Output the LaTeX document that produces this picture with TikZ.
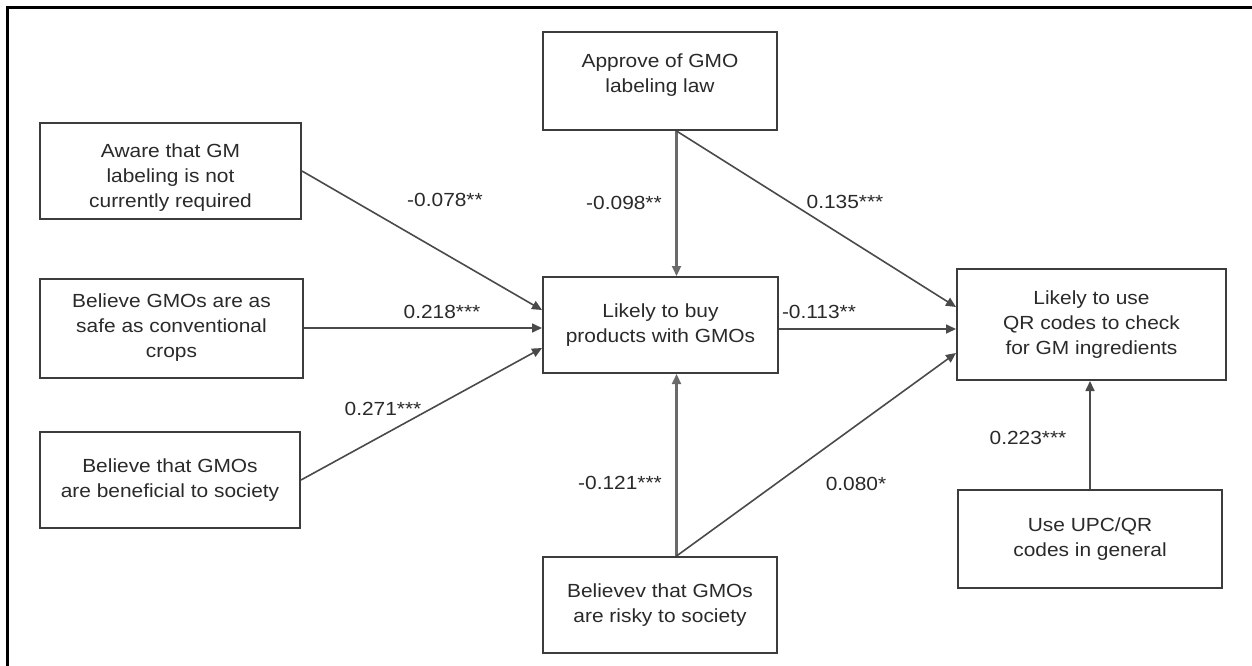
\documentclass[tikz,border=0pt]{standalone}
\usepackage{fontspec}
\setmainfont[FakeStretch=1.1]{Liberation Sans}
\usetikzlibrary{arrows.meta,calc}
\definecolor{boxc}{HTML}{3C3C3C}
\definecolor{arrc}{HTML}{4A4A4A}
\definecolor{varrc}{HTML}{6A6A6A}
\definecolor{txtc}{HTML}{2A2A2A}
\begin{document}
\begin{tikzpicture}[x=1pt,y=-1pt,
  box/.style={draw=boxc,line width=2pt,fill=white,align=center,inner sep=0pt,text=txtc,font=\fontsize{19}{25}\selectfont},
  arr/.style={draw=arrc,line width=1.6pt,-{Triangle[length=10pt,width=9pt]}},
  varr/.style={arr,draw=varrc,line width=2.2pt},
  lab/.style={text=txtc,font=\fontsize{19}{25}\selectfont,inner sep=0pt}]
\useasboundingbox (0,0) rectangle (1252,666);
\fill[white] (0,0) rectangle (1252,666);
\draw[black,line width=2.2pt] (7.5,666) -- (7.5,7.5) -- (1252,7.5);

\node[box,minimum width=261pt,minimum height=96pt,
  label={[lab,align=center,yshift=-7pt]center:Aware that GM\\labeling is not\\currently required}] (a1) at (170.5,171) {};
\node[box,minimum width=263pt,minimum height=99pt] (a2) at (171.5,328) {Believe GMOs are as\\safe as conventional\\crops};
\node[box,minimum width=260pt,minimum height=96pt] (a3) at (170,480) {Believe that GMOs\\are beneficial to society};
\node[box,minimum width=235pt,minimum height=96pt] (mid) at (660.5,325) {Likely to buy\\products with GMOs};
\node[box,minimum width=234pt,minimum height=98pt] (top) at (660,81) {Approve of GMO\\labeling law\\[-10pt]};
\node[box,minimum width=234pt,minimum height=96pt] (bot) at (660,605) {Believev that GMOs\\are risky to society};
\node[box,minimum width=269pt,minimum height=111pt] (qr) at (1091.5,324.5) {Likely to use\\QR codes to check\\for GM ingredients};
\node[box,minimum width=264pt,minimum height=98pt] (upc) at (1090,539) {Use UPC/QR\\codes in general};

\coordinate (tv) at ([xshift=16.5pt]top.south);
\coordinate (bv) at ([xshift=16.5pt]bot.north);

\draw[arr] (a1.east) -- ([yshift=15pt]mid.west);
\draw[arr] (a2.east) -- (a2.east -| mid.west);
\draw[arr] (a3.east) -- ([yshift=-23pt]mid.west);
\draw[varr] (tv) -- (tv |- mid.north);
\draw[arr] (tv) -- ([yshift=17.5pt]qr.west);
\draw[arr] ([yshift=-4pt]mid.east) -- ([yshift=-4pt]mid.east -| qr.west);
\draw[varr] (bv) -- (bv |- mid.south);
\draw[arr] (bv) -- ([yshift=-28.5pt]qr.west);
\draw[arr] (upc.north) -- (upc.north |- qr.south);

\node[lab] (l1) at (445,200) {-0.078**};
\node[lab] (l2) at (442,312) {0.218***};
\node[lab] (l3) at (383,409) {0.271***};
\node[lab] (l4) at (624,203) {-0.098**};
\node[lab] (l5) at (845,202) {0.135***};
\node[lab] (l6) at (819,312) {-0.113**};
\node[lab] (l7) at (620,483) {-0.121***};
\node[lab] (l8) at (856,484) {0.080*};
\node[lab] (l9) at (1028,438) {0.223***};
\end{tikzpicture}
\end{document}
